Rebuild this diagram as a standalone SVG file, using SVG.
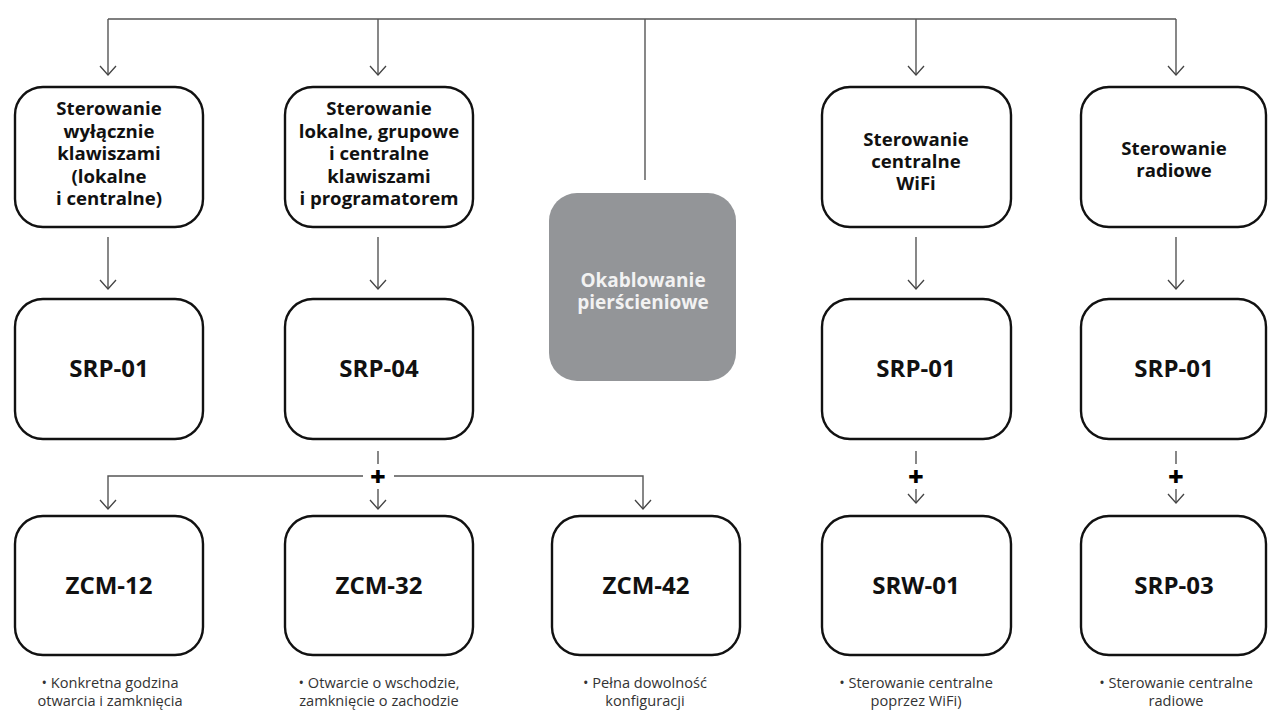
<svg xmlns="http://www.w3.org/2000/svg" width="1268" height="713" viewBox="0 0 1268 713">
<defs>
<marker id="arr" markerUnits="userSpaceOnUse" markerWidth="20" markerHeight="20" refX="0" refY="0" viewBox="-12 -10 14 20" orient="auto" overflow="visible">
<path d="M-9,-8 L0,0 L-9,8" fill="none" stroke="#444" stroke-width="1.3"/>
</marker>
<style>
.box{fill:#fff;stroke:#111;stroke-width:2.4}
.gray{fill:#939598;stroke:none}
.ln{fill:none;stroke:#555;stroke-width:1.4}
.t{font-family:"Open Sans","Noto Sans","Liberation Sans",sans-serif;font-weight:700;font-size:18.6px;fill:#111;text-anchor:middle}
.tw{font-family:"Open Sans","Noto Sans","Liberation Sans",sans-serif;font-weight:700;font-size:19px;fill:#f2f2f2;text-anchor:middle}
.c{font-family:"Open Sans","Noto Sans","Liberation Sans",sans-serif;font-weight:700;font-size:24px;fill:#111;text-anchor:middle}
.d{font-family:"Open Sans","Noto Sans","Liberation Sans",sans-serif;font-weight:400;font-size:14.6px;fill:#333;text-anchor:middle}
.p{font-family:"Open Sans","Noto Sans","Liberation Sans",sans-serif;font-weight:800;font-size:27px;fill:#000;text-anchor:middle}
</style>
</defs>
<rect width="1268" height="713" fill="#fff"/>
<g id="connectors">
<path class="ln" d="M108 19 H1176"/>
<path class="ln" d="M108 19 V75" marker-end="url(#arr)"/>
<path class="ln" d="M378 19 V75" marker-end="url(#arr)"/>
<path class="ln" d="M645 19 V180"/>
<path class="ln" d="M916 19 V75" marker-end="url(#arr)"/>
<path class="ln" d="M1176 19 V75" marker-end="url(#arr)"/>
<path class="ln" d="M108 237 V289" marker-end="url(#arr)"/>
<path class="ln" d="M378 237 V289" marker-end="url(#arr)"/>
<path class="ln" d="M916 237 V289" marker-end="url(#arr)"/>
<path class="ln" d="M1176 237 V289" marker-end="url(#arr)"/>
<path class="ln" d="M378 451 V464"/>
<path class="ln" d="M363 476 H108 V509" marker-end="url(#arr)"/>
<path class="ln" d="M394 476 H643 V509" marker-end="url(#arr)"/>
<path class="ln" d="M378 489 V509" marker-end="url(#arr)"/>
<path class="ln" d="M916 451 V464"/>
<path class="ln" d="M916 489 V503" marker-end="url(#arr)"/>
<path class="ln" d="M1176 451 V464"/>
<path class="ln" d="M1176 489 V503" marker-end="url(#arr)"/>
<text class="p" x="378" y="486">+</text>
<text class="p" x="916" y="486">+</text>
<text class="p" x="1176" y="486">+</text>
</g>
<g id="n-top1"><rect class="box" x="15" y="87" width="188" height="140" rx="28"/>
<text class="t" x="109"><tspan x="109" y="115">Sterowanie</tspan><tspan x="109" y="138">wyłącznie</tspan><tspan x="109" y="160">klawiszami</tspan><tspan x="109" y="183">(lokalne</tspan><tspan x="109" y="205">i centralne)</tspan></text></g>
<g id="n-top2"><rect class="box" x="285" y="87" width="188" height="140" rx="28"/>
<text class="t" x="379"><tspan x="379" y="115">Sterowanie</tspan><tspan x="379" y="138">lokalne, grupowe</tspan><tspan x="379" y="160">i centralne</tspan><tspan x="379" y="183">klawiszami</tspan><tspan x="379" y="205">i programatorem</tspan></text></g>
<g id="n-ring"><rect class="gray" x="549" y="193" width="187" height="188" rx="28"/>
<text class="tw" x="643"><tspan x="643" y="287">Okablowanie</tspan><tspan x="643" y="309">pierścieniowe</tspan></text></g>
<g id="n-top4"><rect class="box" x="822" y="87" width="189" height="140" rx="28"/>
<text class="t" x="916"><tspan x="916" y="146">Sterowanie</tspan><tspan x="916" y="168">centralne</tspan><tspan x="916" y="190">WiFi</tspan></text></g>
<g id="n-top5"><rect class="box" x="1081" y="87" width="185" height="140" rx="28"/>
<text class="t" x="1174"><tspan x="1174" y="155">Sterowanie</tspan><tspan x="1174" y="177">radiowe</tspan></text></g>
<g id="n-srp01a"><rect class="box" x="15" y="299" width="188" height="140" rx="28"/><text class="c" x="109" y="377">SRP-01</text></g>
<g id="n-srp04"><rect class="box" x="285" y="299" width="188" height="140" rx="28"/><text class="c" x="379" y="377">SRP-04</text></g>
<g id="n-srp01b"><rect class="box" x="822" y="299" width="189" height="140" rx="28"/><text class="c" x="916" y="377">SRP-01</text></g>
<g id="n-srp01c"><rect class="box" x="1081" y="299" width="185" height="140" rx="28"/><text class="c" x="1174" y="377">SRP-01</text></g>
<g id="n-zcm12"><rect class="box" x="15" y="516" width="188" height="139" rx="28"/><text class="c" x="109" y="594">ZCM-12</text>
<text class="d"><tspan x="110" y="688">• Konkretna godzina</tspan><tspan x="110" y="706">otwarcia i zamknięcia</tspan></text></g>
<g id="n-zcm32"><rect class="box" x="285" y="516" width="188" height="139" rx="28"/><text class="c" x="379" y="594">ZCM-32</text>
<text class="d"><tspan x="379" y="688">• Otwarcie o wschodzie,</tspan><tspan x="379" y="706">zamknięcie o zachodzie</tspan></text></g>
<g id="n-zcm42"><rect class="box" x="552" y="516" width="188" height="139" rx="28"/><text class="c" x="646" y="594">ZCM-42</text>
<text class="d"><tspan x="645" y="688">• Pełna dowolność</tspan><tspan x="645" y="706">konfiguracji</tspan></text></g>
<g id="n-srw01"><rect class="box" x="822" y="516" width="189" height="139" rx="28"/><text class="c" x="916" y="594">SRW-01</text>
<text class="d"><tspan x="916" y="688">• Sterowanie centralne</tspan><tspan x="916" y="706">poprzez WiFi)</tspan></text></g>
<g id="n-srp03"><rect class="box" x="1081" y="516" width="185" height="139" rx="28"/><text class="c" x="1174" y="594">SRP-03</text>
<text class="d"><tspan x="1176" y="688">• Sterowanie centralne</tspan><tspan x="1176" y="706">radiowe</tspan></text></g>
</svg>
